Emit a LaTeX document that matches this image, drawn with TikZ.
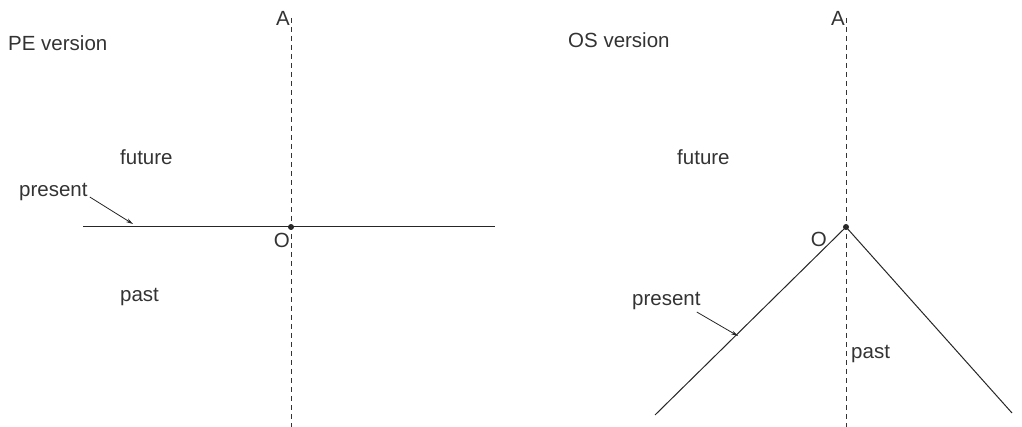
\documentclass[tikz,border=0pt]{standalone}
\usepackage{fontspec}
\setmainfont{Liberation Sans}
\usetikzlibrary{arrows.meta}
\begin{document}
\begin{tikzpicture}[x=1pt,y=-1pt,
  lbl/.style={font=\fontsize{20.5}{24}\selectfont, text=black!80, inner sep=0pt},
  axis/.style={dashed, dash pattern=on 5pt off 4pt, line width=0.9pt, black!80},
  ln/.style={line width=1pt, black!85},
  ptr/.style={line width=0.8pt, black!85, -{Stealth[length=7pt,width=4pt]}},
  dot/.style={circle, fill=black!85, inner sep=0pt, minimum size=6pt}]
\useasboundingbox (0,0) rectangle (1022,427);
% left panel
\coordinate (A1) at (291,18);
\coordinate (B1) at (291,427);
\node[dot] (O1) at (291,227) {};
\coordinate (L1) at (83,227);
\coordinate (R1) at (495,227);
\draw[axis] (A1) -- (B1);
\draw[ln] (L1) -- (R1);
\node[lbl, anchor=east] (a1) at (290,18) {A};
\node[lbl, anchor=east] (o1) at (290,240) {O};
\node[lbl, anchor=west] (pe) at (8,43) {PE version};
\node[lbl, anchor=west] (fu1) at (120,157) {future};
\node[lbl, anchor=west] (pr1) at (19,192) {present};
\node[lbl, anchor=west] (pa1) at (120,297) {past};
\coordinate (t1) at (133,224);
\draw[ptr] (pr1.east) ++(2,5) -- (t1);
% right panel
\coordinate (A2) at (846,18);
\coordinate (B2) at (846,427);
\node[dot] (O2) at (846,227) {};
\coordinate (L2) at (655,415);
\coordinate (R2) at (1012,413);
\draw[axis] (A2) -- (B2);
\draw[ln] (L2) -- (O2.center) -- (R2);
\node[lbl, anchor=east] (a2) at (845,18) {A};
\node[lbl, anchor=east] (o2) at (827,239) {O};
\node[lbl, anchor=west] (os) at (568,40) {OS version};
\node[lbl, anchor=west] (fu2) at (677,157) {future};
\node[lbl, anchor=west] (pr2) at (632,301) {present};
\node[lbl, anchor=west] (pa2) at (851,354) {past};
\coordinate (t2) at (738,336);
\draw[ptr] (pr2.east) ++(-4,11) -- (t2);
\end{tikzpicture}
\end{document}
